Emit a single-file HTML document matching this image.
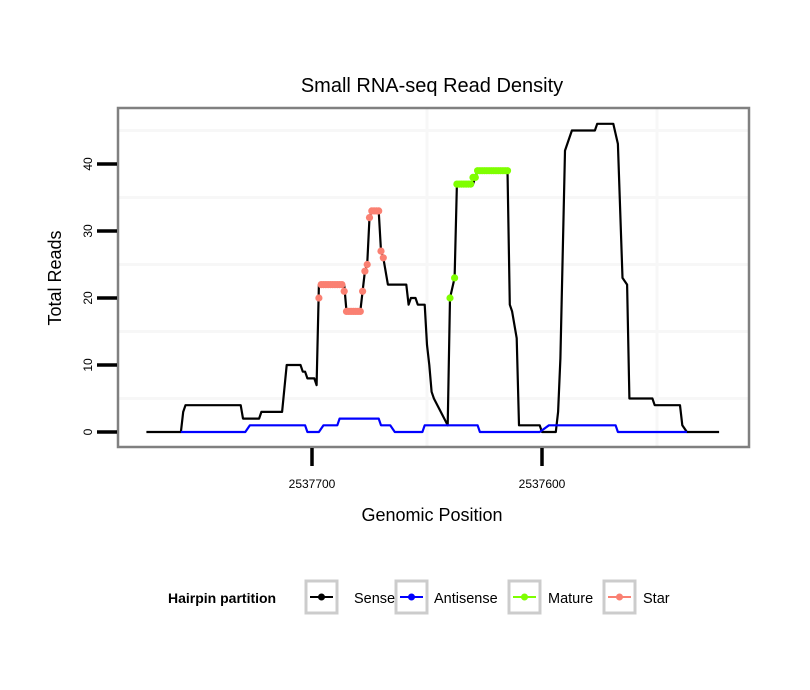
<!DOCTYPE html>
<html><head><meta charset="utf-8"><style>
body{margin:0;background:#fff;}
svg{display:block;font-family:"Liberation Sans",sans-serif;}
</style></head><body>
<svg id="chart" width="810" height="690">
<text x="432" y="92" text-anchor="middle" font-size="20">Small RNA-seq Read Density</text>
<g id="grid"></g>
<g id="series"></g>
<rect x="118" y="108" width="631" height="339" fill="none" stroke="#808080" stroke-width="2.5"/>
<g id="axes"></g>
<text x="432" y="521" text-anchor="middle" font-size="18">Genomic Position</text>
<text transform="translate(61,278) rotate(-90)" text-anchor="middle" font-size="18">Total Reads</text>
<g>
<text x="168" y="603" font-size="14" font-weight="bold">Hairpin partition</text>
<g><rect x="306" y="581" width="31" height="32" fill="#fff" stroke="#ccc" stroke-width="3"/><line x1="310" x2="333" y1="597" y2="597" stroke="#000" stroke-width="2"/><circle cx="321.5" cy="597" r="3.5" fill="#000"/><text x="354" y="603" font-size="14.5">Sense</text></g>
<g><rect x="396" y="581" width="31" height="32" fill="#fff" stroke="#ccc" stroke-width="3"/><line x1="400" x2="423" y1="597" y2="597" stroke="#0000ff" stroke-width="2"/><circle cx="411.5" cy="597" r="3.5" fill="#0000ff"/><text x="434" y="603" font-size="14.5">Antisense</text></g>
<g><rect x="509" y="581" width="31" height="32" fill="#fff" stroke="#ccc" stroke-width="3"/><line x1="513" x2="536" y1="597" y2="597" stroke="#7fff00" stroke-width="2"/><circle cx="524.5" cy="597" r="3.5" fill="#7fff00"/><text x="548" y="603" font-size="14.5">Mature</text></g>
<g><rect x="604" y="581" width="31" height="32" fill="#fff" stroke="#ccc" stroke-width="3"/><line x1="608" x2="631" y1="597" y2="597" stroke="#fa8072" stroke-width="2"/><circle cx="619.5" cy="597" r="3.5" fill="#fa8072"/><text x="643" y="603" font-size="14.5">Star</text></g>
</g>
</svg>
<script>
const senseX=[2537772,2537757,2537756,2537755,2537731,2537730,2537723,2537722,2537713,2537711,2537705,2537704,2537703,2537702,2537699,2537698,2537697,2537686,2537685,2537679,2537678,2537677,2537676,2537675,2537674,2537671,2537670,2537669,2537667,2537659,2537658,2537657,2537655,2537654,2537651,2537650,2537649,2537648,2537647,2537641,2537640,2537638,2537637,2537630,2537629,2537628,2537615,2537614,2537613,2537611,2537610,2537601,2537600,2537594,2537593,2537592,2537590,2537589,2537587,2537577,2537576,2537569,2537567,2537565,2537563,2537562,2537552,2537551,2537540,2537539,2537537,2537523];
const senseY=[0,0,3,4,4,2,2,3,3,10,10,9,9,8,8,7,22,22,18,18,21,24,25,32,33,33,27,26,22,22,19,20,20,19,19,13,10,6,5,1,20,23,37,37,38,39,39,19,18,14,1,1,0,0,3,11,42,43,45,45,46,46,43,23,22,5,5,4,4,1,0,0];
const antiX=[2537757,2537729,2537727,2537703,2537702,2537697,2537695,2537689,2537688,2537671,2537670,2537666,2537664,2537652,2537651,2537628,2537627,2537601,2537597,2537568,2537567,2537537];
const antiY=[0,0,1,1,0,0,1,1,2,2,1,1,0,0,1,1,0,0,1,1,0,0];
const starX=[2537697,2537696,2537695,2537694,2537693,2537692,2537691,2537690,2537689,2537688,2537687,2537686,2537685,2537684,2537683,2537682,2537681,2537680,2537679,2537678,2537677,2537676,2537675,2537674,2537673,2537672,2537671,2537670,2537669];
const starY=[20,22,22,22,22,22,22,22,22,22,22,21,18,18,18,18,18,18,18,21,24,25,32,33,33,33,33,27,26];
const matX=[2537640,2537638,2537637,2537636,2537635,2537634,2537633,2537632,2537631,2537630,2537629,2537628,2537627,2537626,2537625,2537624,2537623,2537622,2537621,2537620,2537619,2537618,2537617,2537616,2537615];
const matY=[20,23,37,37,37,37,37,37,37,38,38,39,39,39,39,39,39,39,39,39,39,39,39,39,39];
const xTicks=[2537700,2537600];
const yTicks=[0,10,20,30,40];
const xGrid=[2537650,2537550];
const yGrid=[5,15,25,35,45];
const NS='http://www.w3.org/2000/svg';
const sx=p=>312+(2537700-p)*2.3;
const sy=v=>432-v*6.7;
function mk(t,a,parent){const e=document.createElementNS(NS,t);for(const k in a)e.setAttribute(k,a[k]);document.getElementById(parent).appendChild(e);return e;}
yGrid.forEach(v=>{const l=mk('line',{x1:119,x2:748,y1:sy(v),y2:sy(v),stroke:'#f7f7f7','stroke-width':3},'grid');

});
xGrid.forEach(p=>{const x=sx(p);const l=mk('line',{x1:x,x2:x,y1:109,y2:446,stroke:'#f7f7f7','stroke-width':3},'grid');

});
function line(X,Y,color,name){const pts=X.map((p,i)=>sx(p)+','+sy(Y[i])).join(' ');const l=mk('polyline',{points:pts,fill:'none',stroke:color,'stroke-width':2.2,'stroke-linejoin':'round'},'series');

}
line(senseX,senseY,'#000','sense-line');
line(antiX,antiY,'#0000ff','antisense-line');
function pts(X,Y,color,name){X.forEach((p,i)=>{const c=mk('circle',{cx:sx(p),cy:sy(Y[i]),r:3.6,fill:color},'series');

});}
pts(starX,starY,'#fa8072','star-point');
pts(matX,matY,'#7fff00','mature-point');
yTicks.forEach(v=>{const t=mk('line',{x1:97,x2:117,y1:sy(v),y2:sy(v),stroke:'#000','stroke-width':3.5},'axes');


const tx=mk('text',{transform:`translate(${92},${sy(v)}) rotate(-90)`,'text-anchor':'middle','font-size':12},'axes');tx.textContent=v;

});
xTicks.forEach(p=>{const t=mk('line',{x1:sx(p),x2:sx(p),y1:448,y2:466,stroke:'#000','stroke-width':3.5},'axes');


const tx=mk('text',{x:sx(p),y:488,'text-anchor':'middle','font-size':12},'axes');tx.textContent=p;

});
</script>
</body></html>
